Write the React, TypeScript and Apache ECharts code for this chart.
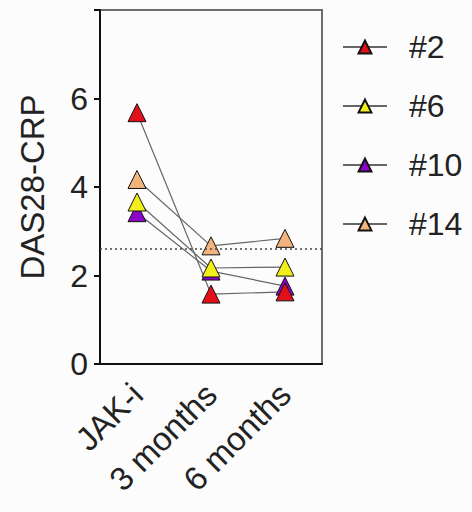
import React, { useEffect, useRef } from "react";
import * as echarts from "echarts";

// Time points on the x axis
const timePoints = ["JAK-i", "3 months", "6 months"];

// DAS28-CRP per patient at each time point
const patient2 = [5.68, 1.58, 1.63];
const patient6 = [3.66, 2.17, 2.19];
const patient10 = [3.42, 2.1, 1.76];
const patient14 = [4.17, 2.67, 2.84];

// Patient labels and marker fills
const patientNames = ["#2", "#6", "#10", "#14"];
const patientColors = ["#e3101a", "#f2ee1a", "#8a05c8", "#f2b47c"];

// Remission threshold
const remissionCutoff = 2.6;

const FONT = "'Liberation Sans', Arial, sans-serif";

export default function App() {
  const ref = useRef<HTMLDivElement>(null);

  useEffect(() => {
    if (!ref.current) return;
    const chart = echarts.init(ref.current, null, { renderer: "svg" });

    const values = [patient2, patient6, patient10, patient14];
    // draw #10 first so the other markers sit on top of it
    const drawOrder = [2, 0, 1, 3];

    const series: any[] = drawOrder.map((i) => ({
      name: patientNames[i],
      type: "line",
      data: values[i],
      symbol: "triangle",
      symbolSize: 18,
      showSymbol: true,
      itemStyle: { color: patientColors[i], borderColor: "#111", borderWidth: 1 },
      lineStyle: { color: "#666", width: 1.2 },
      emphasis: { disabled: true },
      z: 3,
    }));

    series.push({
      type: "line",
      data: [],
      silent: true,
      markLine: {
        silent: true,
        symbol: "none",
        label: { show: false },
        lineStyle: { color: "#444", type: [2, 3], width: 1.5 },
        data: [{ yAxis: remissionCutoff }],
      },
      z: 1,
    });

    chart.setOption({
      animation: false,
      backgroundColor: "#fcfcfc",
      grid: {
        left: 100,
        right: 150,
        top: 10,
        bottom: 148,
        show: true,
        borderColor: "#6e6e6e",
        borderWidth: 2,
      },
      legend: {
        data: patientNames,
        orient: "vertical",
        left: 342,
        top: 31,
        padding: 0,
        itemWidth: 44,
        itemHeight: 16,
        itemGap: 27,
        selectedMode: false,
        textStyle: {
          fontFamily: FONT,
          fontSize: 32,
          lineHeight: 32,
          color: "#222",
          padding: [0, 0, 0, 17],
        },
      },
      xAxis: {
        type: "category",
        data: timePoints,
        boundaryGap: true,
        axisLine: { lineStyle: { color: "#111", width: 2 } },
        axisTick: { alignWithLabel: true, length: 6, lineStyle: { color: "#111", width: 2 } },
        axisLabel: {
          rotate: 45,
          fontFamily: FONT,
          fontSize: 33,
          color: "#222",
          margin: 25,
        },
      },
      yAxis: {
        type: "value",
        min: 0,
        max: 8,
        interval: 2,
        name: "DAS28-CRP",
        nameLocation: "middle",
        nameGap: 51,
        nameTextStyle: { fontFamily: FONT, fontSize: 33, color: "#222" },
        splitLine: { show: false },
        axisLine: { show: true, lineStyle: { color: "#111", width: 2 } },
        axisTick: { show: true, length: 6, lineStyle: { color: "#111", width: 2 } },
        axisLabel: {
          fontFamily: FONT,
          fontSize: 32,
          color: "#222",
          margin: 12,
          formatter: (v: number) => (v === 8 ? "" : String(v)),
        },
      },
      series,
    });

    return () => chart.dispose();
  }, []);

  return (
    <div
      ref={ref}
      style={{ position: "absolute", left: 0, top: 0, width: 472, height: 512 }}
    />
  );
}
